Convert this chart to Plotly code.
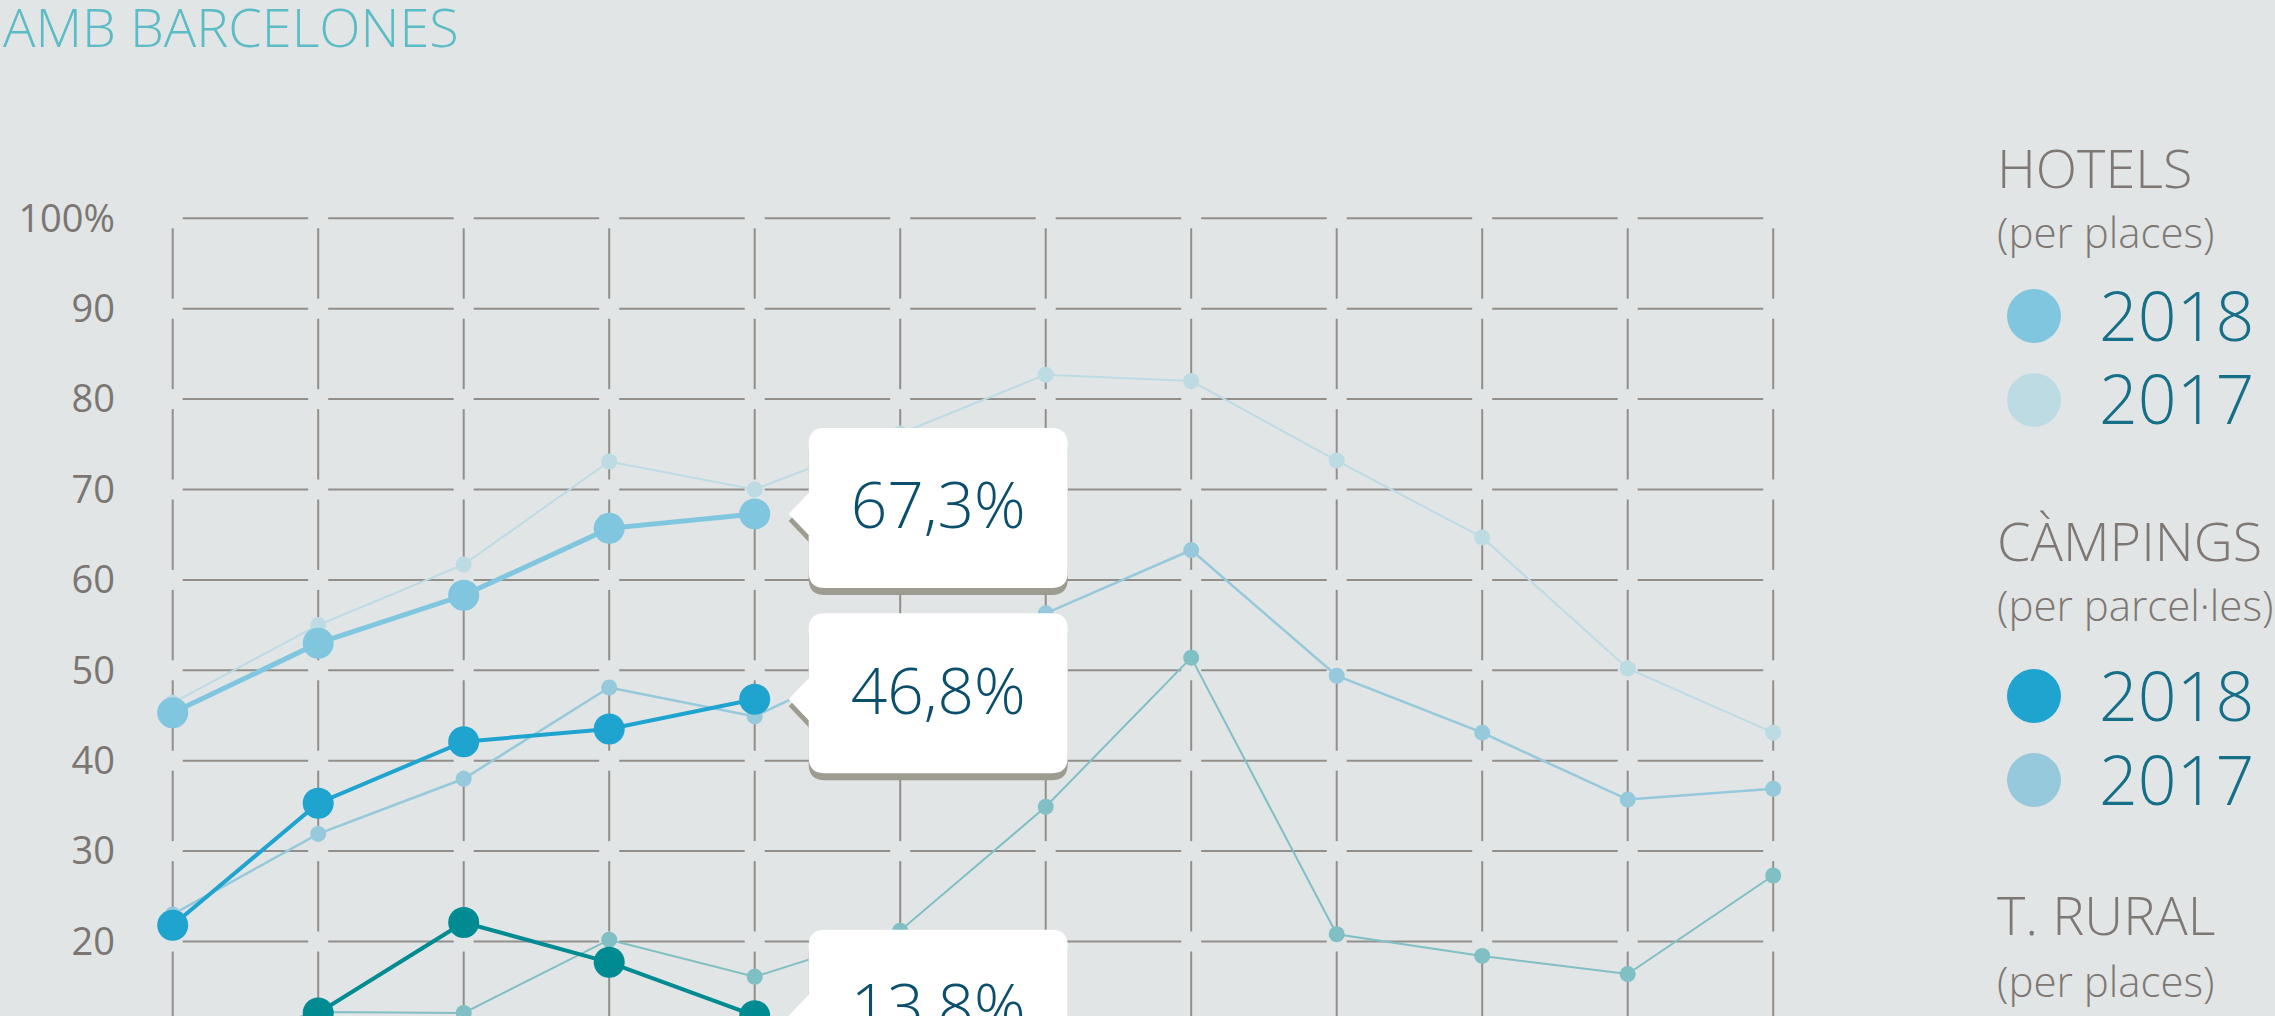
import plotly.graph_objs as go

# page size in pixels
W = 2275
H = 1016

# months (the axis labels fall below the visible page)
MONTHS = ['gen', 'feb', 'mar', 'abr', 'mai', 'jun', 'jul', 'ago', 'set', 'oct', 'nov', 'des']

# occupancy, %
HOTELS_2018 = [45.3, 53.0, 58.3, 65.7, 67.3]
HOTELS_2017 = [46.4, 55.0, 61.7, 73.1, 70.0, 76.2, 82.7, 82.0, 73.2, 64.7, 50.2, 43.1]
CAMPINGS_2018 = [21.8, 35.3, 42.1, 43.5, 46.8]
CAMPINGS_2017 = [23.0, 31.9, 38.0, 48.1, 44.9, 52.5, 56.3, 63.3, 49.4, 43.1, 35.7, 36.9]
RURAL_2018 = [6.5, 12.1, 22.1, 17.7, 11.8]
RURAL_2017 = [8.0, 12.2, 12.1, 20.2, 16.1, 21.2, 34.9, 51.4, 20.8, 18.4, 16.4, 27.3]

CALLOUT_TEXT = ['67,3%', '46,8%', '13,8%']

Y_TICKS = [20, 30, 40, 50, 60, 70, 80, 90, 100]
Y_TICK_TEXT = ['20', '30', '40', '50', '60', '70', '80', '90', '100%']

TITLE = 'AMB BARCELONES'

# colours
BG = '#e1e5e6'
GRID = '#928f8b'
C_HOTELS_18 = '#7fc6de'
C_HOTELS_17 = '#bddbe3'
C_CAMP_18 = '#1fa3cf'
C_CAMP_17 = '#95c9db'
C_RURAL_18 = '#008b93'
C_RURAL_17 = '#80bfc4'

FONT = 'Open Sans'

# geometry of the grid on the page (pixels)
COL0 = 172.7       # x of first month
COL_STEP = 145.5   # px between months
Y100 = 218.3       # y of the 100% line
Y_STEP = 9.04      # px per percentage point
PLOT_LEFT = 120
PLOT_RIGHT = 1800
PLOT_TOP = 150

x_range = [(PLOT_LEFT - COL0) / COL_STEP, (PLOT_RIGHT - COL0) / COL_STEP]
y_range = [100 - (H - Y100) / Y_STEP, 100 + (Y100 - PLOT_TOP) / Y_STEP]


# broken grid: short segments with a gap around every crossing
def grid_trace():
    gx = 10 / COL_STEP
    gy = 10 / Y_STEP
    xs, ys = [], []
    for v in range(0, 101, 10):
        for i in range(len(MONTHS) - 1):
            xs += [i + gx, i + 1 - gx, None]
            ys += [v, v, None]
    for i in range(len(MONTHS)):
        for v in range(0, 100, 10):
            xs += [i, i, None]
            ys += [v + gy, v + 10 - gy, None]
    return go.Scatter(x=xs, y=ys, mode='lines', line=dict(color=GRID, width=2),
                      hoverinfo='skip', showlegend=False)


def series(values, color, big, width=None):
    return go.Scatter(
        x=list(range(len(values))),
        y=values,
        mode='lines+markers',
        line=dict(color=color, width=width or (4 if big else 2)),
        marker=dict(color=color, size=31 if big else 16),
        hoverinfo='skip',
        showlegend=False
    )


# rounded box with a pointer on the left, in pixels relative to the point
def bubble_path(dy=0, pointer=True):
    l, r, t, b, rad = 54, 313, 86 + dy, -74 + dy, 16
    p = ''
    if pointer:
        p += 'M 34,%d L %d,%d ' % (dy, l, 21 + dy)
    else:
        p += 'M %d,%d ' % (l, 21 + dy)
    p += 'L %d,%d Q %d,%d %d,%d ' % (l, t - rad, l, t, l + rad, t)
    p += 'L %d,%d Q %d,%d %d,%d ' % (r - rad, t, r, t, r, t - rad)
    p += 'L %d,%d Q %d,%d %d,%d ' % (r, b + rad, r, b, r - rad, b)
    p += 'L %d,%d Q %d,%d %d,%d ' % (l + rad, b, l, b, l, b + rad)
    p += 'L %d,%d Z' % (l, -21 + dy)
    return p


def callout(month, value, text):
    base = dict(type='path', xref='x', yref='y', xsizemode='pixel', ysizemode='pixel',
                xanchor=month, yanchor=value, layer='above', line=dict(width=0))
    shadow = dict(base, path=bubble_path(-7), fillcolor='#9e9b90')
    box = dict(base, path=bubble_path(0), fillcolor='white')
    label = dict(base, path=bubble_path(0, pointer=False), fillcolor='rgba(0,0,0,0)',
                 label=dict(text=text, textposition='middle center',
                            font=dict(family=FONT, size=64, color='#0b4f6c', weight=300)))
    return [shadow, box, label]


def page_text(text, px, py, size, color, weight=300):
    return dict(text=text, xref='paper', yref='paper', x=px / W, y=1 - py / H,
                xanchor='left', yanchor='middle', showarrow=False, borderpad=0,
                font=dict(family=FONT, size=size, color=color, weight=weight))


def dot(px, py, color, d=54):
    return dict(type='circle', xref='paper', yref='paper',
                x0=(px - d / 2) / W, x1=(px + d / 2) / W,
                y0=1 - (py + d / 2) / H, y1=1 - (py - d / 2) / H,
                fillcolor=color, line=dict(width=0), layer='above')


def main():
    data = [
        grid_trace(),
        series(HOTELS_2017, C_HOTELS_17, False),
        series(CAMPINGS_2017, C_CAMP_17, False, 2.5),
        series(RURAL_2017, C_RURAL_17, False),
        series(HOTELS_2018, C_HOTELS_18, True, 5),
        series(CAMPINGS_2018, C_CAMP_18, True),
        series(RURAL_2018, C_RURAL_18, True),
    ]

    shapes = []
    for values, text in zip([HOTELS_2018, CAMPINGS_2018, RURAL_2018], CALLOUT_TEXT):
        shapes += callout(len(values) - 1, values[-1], text)

    # legend on the right
    head = '#7d7874'
    year = '#176e87'
    annotations = [page_text(TITLE, 2, 26, 54, '#5cbcc6')]
    annotations += [
        page_text('HOTELS', 1996, 167, 54, head),
        page_text('(per places)', 1996, 231, 42, head),
        page_text('2018', 2098, 314, 68, year),
        page_text('2017', 2098, 398, 68, year),
        page_text('CÀMPINGS', 1996, 540, 54, head),
        page_text('(per parcel·les)', 1996, 604, 42, head),
        page_text('2018', 2098, 694, 68, year),
        page_text('2017', 2098, 778, 68, year),
        page_text('T. RURAL', 1996, 914, 54, head),
        page_text('(per places)', 1996, 980, 42, head),
    ]
    shapes += [
        dot(2034, 316, C_HOTELS_18),
        dot(2034, 400, C_HOTELS_17),
        dot(2034, 696, C_CAMP_18),
        dot(2034, 780, C_CAMP_17),
    ]

    layout = go.Layout(
        width=W,
        height=H,
        margin=dict(l=0, r=0, t=0, b=0),
        paper_bgcolor=BG,
        plot_bgcolor=BG,
        showlegend=False,
        xaxis=dict(
            domain=[PLOT_LEFT / W, PLOT_RIGHT / W],
            range=x_range,
            tickvals=list(range(len(MONTHS))),
            ticktext=MONTHS,
            showticklabels=False,
            showgrid=False,
            zeroline=False,
            showline=False
        ),
        yaxis=dict(
            domain=[0, 1 - PLOT_TOP / H],
            range=y_range,
            tickvals=Y_TICKS,
            ticktext=Y_TICK_TEXT,
            ticks='',
            ticklabelstandoff=4,
            tickfont=dict(family=FONT, size=38, color='#7b7672'),
            showgrid=False,
            zeroline=False,
            showline=False
        ),
        shapes=shapes,
        annotations=annotations
    )

    fig = go.Figure(data=data, layout=layout)
    # drop the default page margin so the figure fills the window
    fig.write_html('out.html', config={'displayModeBar': False},
                   post_script="document.body.style.margin = '0';")


if __name__ == '__main__':
    main()
